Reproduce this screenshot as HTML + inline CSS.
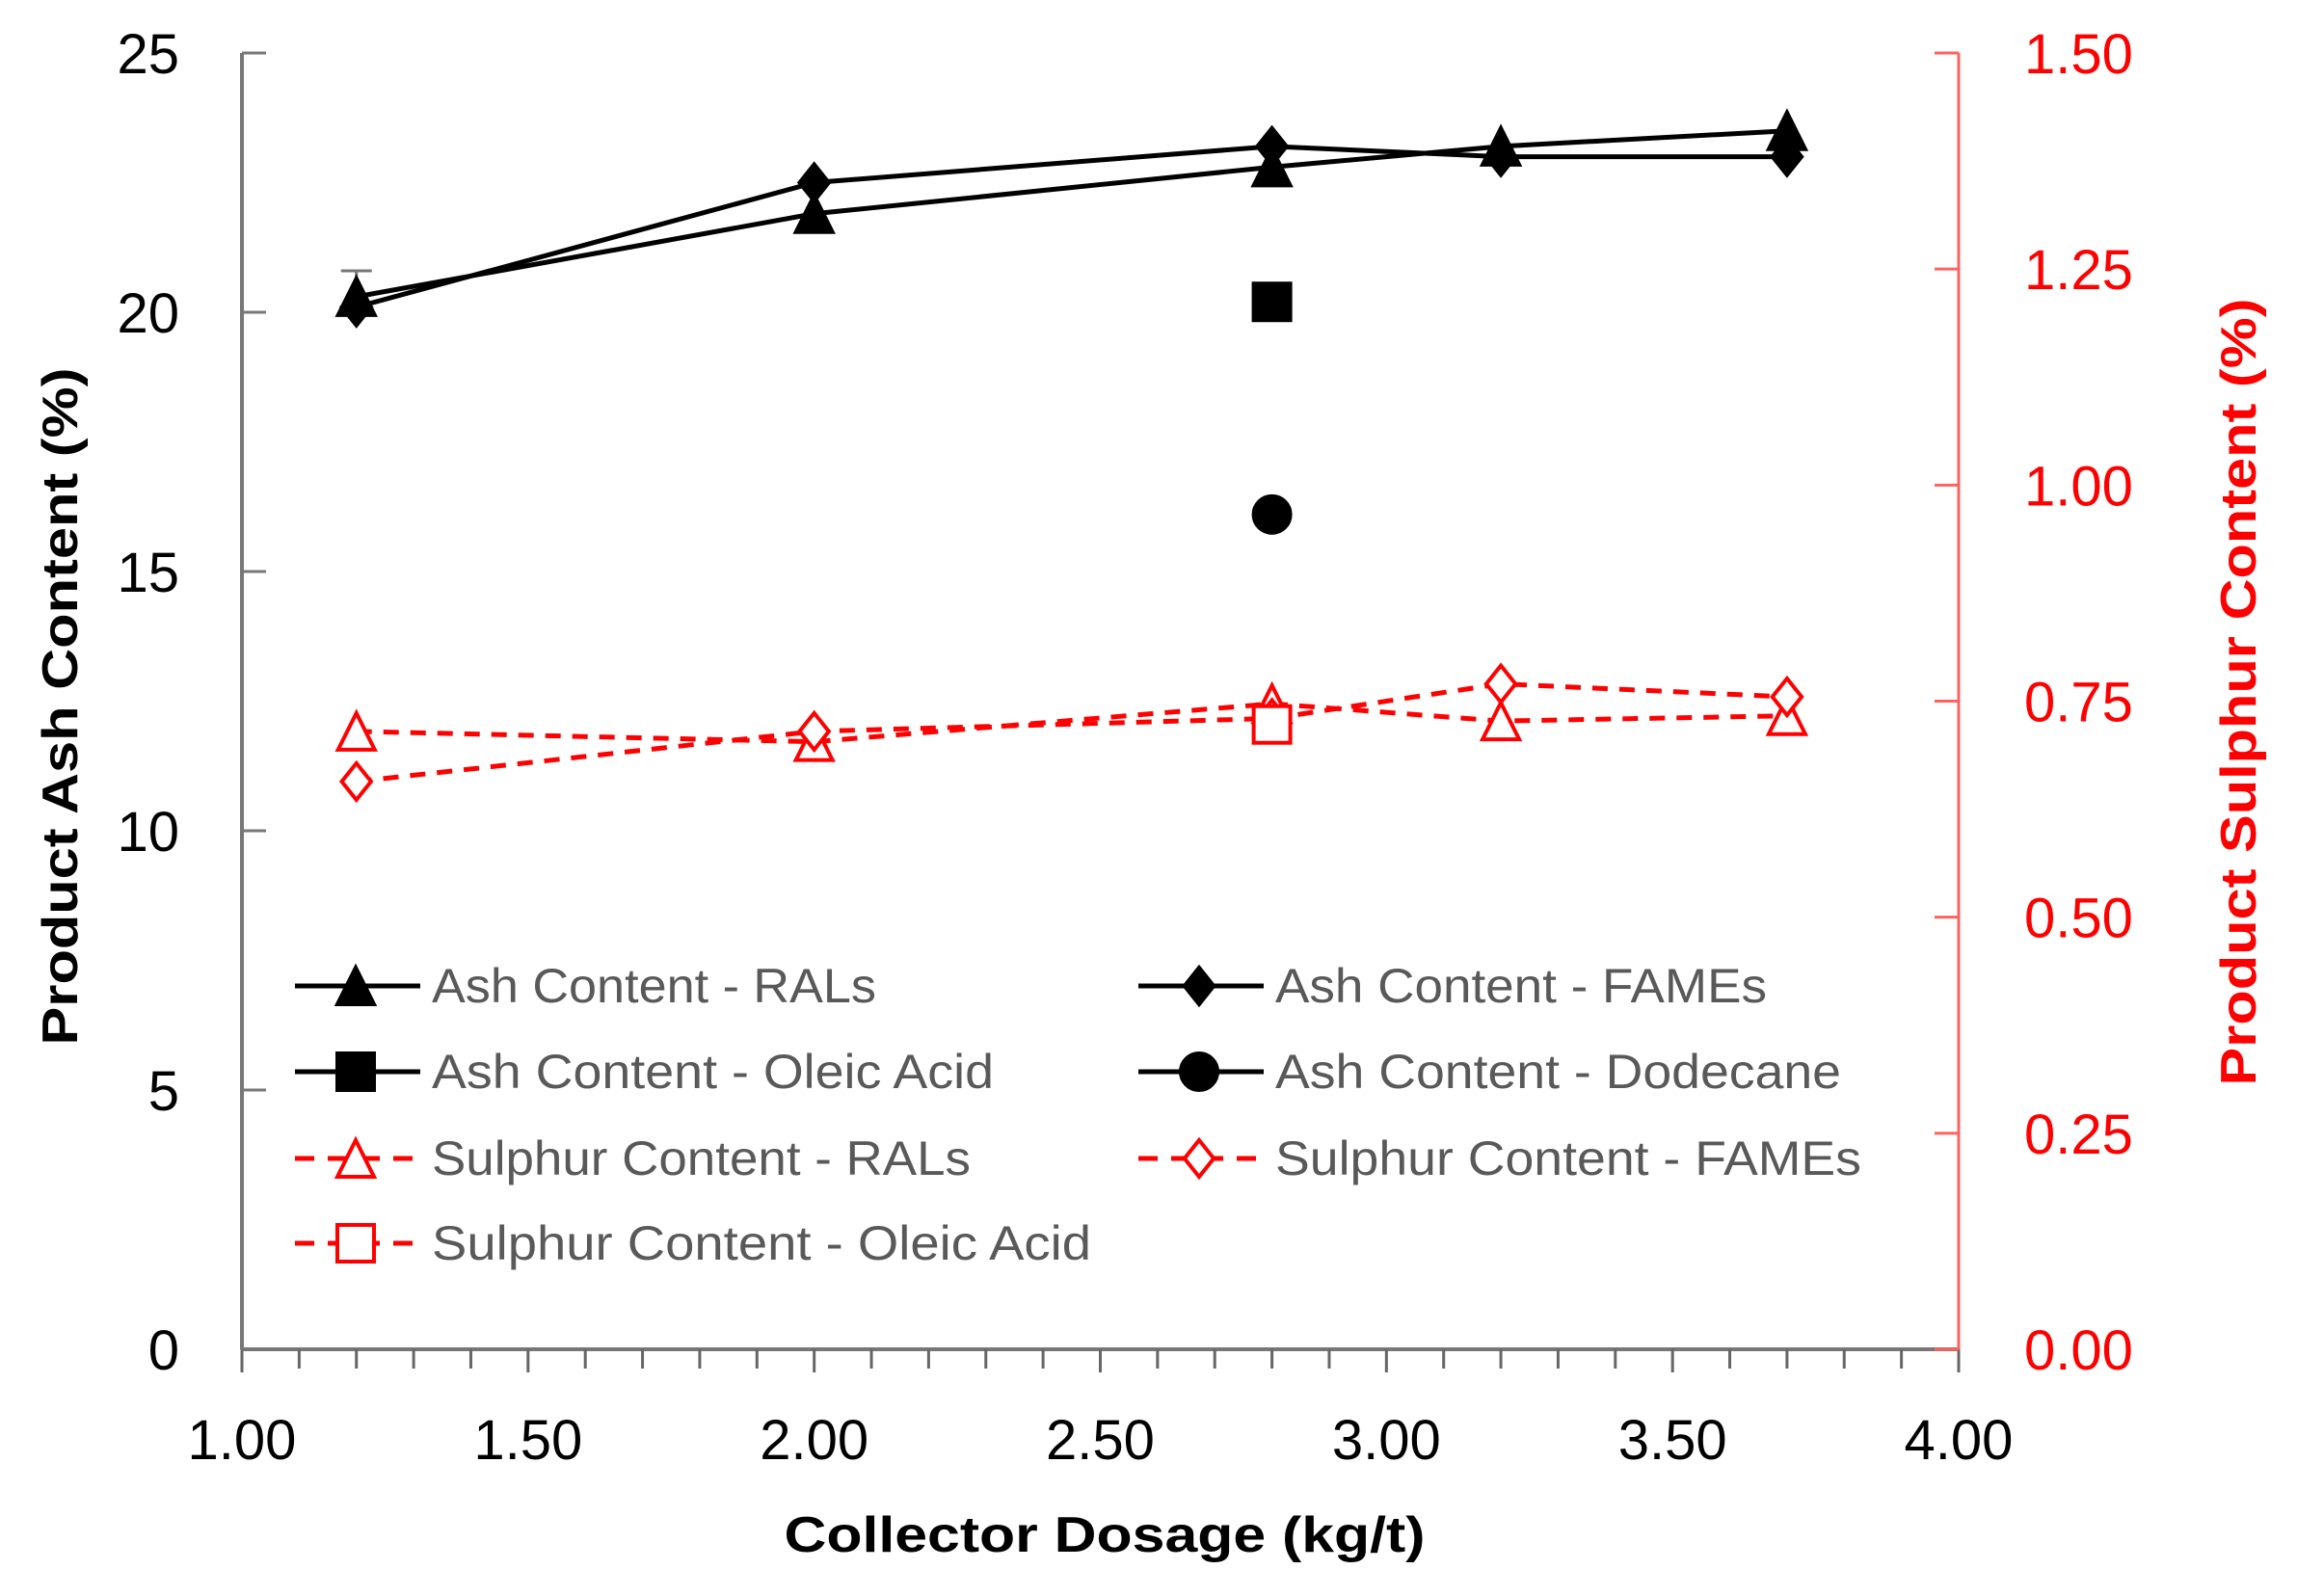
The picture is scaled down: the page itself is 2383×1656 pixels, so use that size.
<!DOCTYPE html>
<html><head><meta charset="utf-8"><style>html,body{margin:0;padding:0;background:#fff}svg{display:block}</style></head>
<body>
<svg id="chart" width="2383" height="1656" viewBox="0 0 2383 1656" xmlns="http://www.w3.org/2000/svg" font-family="'Liberation Sans', sans-serif">
<g id="axes"></g><g id="series"></g><g id="legend"></g>
<text x="1146" y="1610" text-anchor="middle" font-size="52" font-weight="bold" fill="#000" textLength="665" lengthAdjust="spacingAndGlyphs">Collector Dosage (kg/t)</text>
<text transform="translate(80,733) rotate(-90)" text-anchor="middle" font-size="52" font-weight="bold" fill="#000" textLength="703" lengthAdjust="spacingAndGlyphs">Product Ash Content (%)</text>
<text transform="translate(2340,718) rotate(-90)" text-anchor="middle" font-size="52" font-weight="bold" fill="#ff0000" textLength="817" lengthAdjust="spacingAndGlyphs">Product Sulphur Content (%)</text>
</svg>
<script>
const xTicks = [1.0, 1.5, 2.0, 2.5, 3.0, 3.5, 4.0];
const xTickLabels = ["1.00","1.50","2.00","2.50","3.00","3.50","4.00"];
const yTicks = [0,5,10,15,20,25];
const yTickLabels = ["0","5","10","15","20","25"];
const y2Ticks = [0,0.25,0.5,0.75,1.0,1.25,1.5];
const y2TickLabels = ["0.00","0.25","0.50","0.75","1.00","1.25","1.50"];
const dosage = [1.2, 2.0, 2.8, 3.2, 3.7];
const ashRALs = [20.3, 21.9, 22.8, 23.2, 23.5];
const ashFAMEs = [20.1, 22.5, 23.2, 23.0, 23.0];
const ashOleicX = [2.8];
const ashOleic = [20.2];
const ashDodecaneX = [2.8];
const ashDodecane = [16.1];
const sulRALs = [0.715, 0.703, 0.747, 0.727, 0.733];
const sulFAMEs = [0.657, 0.715, 0.73, 0.77, 0.755];
const sulOleicX = [2.8];
const sulOleic = [0.723];
const errRALsHigh = [20.8, 22.1, 23.0, 23.4, 23.7];

const L=251,R=2032,T=55,B=1400;
const xS=v=>L+(v-1)/3*(R-L);
const yS=v=>B-v/25*(B-T);
const y2S=v=>B-v/1.5*(B-T);
const NS="http://www.w3.org/2000/svg";
function mk(tag,attrs,parent){const e=document.createElementNS(NS,tag);for(const k in attrs)e.setAttribute(k,attrs[k]);parent.appendChild(e);return e;}
const ax=document.getElementById('axes'),se=document.getElementById('series'),lg=document.getElementById('legend');

let e;
e=mk('line',{x1:L,y1:B,x2:R,y2:B,stroke:'#777','stroke-width':4},ax);


e=mk('line',{x1:L,y1:T,x2:L,y2:B,stroke:'#777','stroke-width':4},ax);


e=mk('line',{x1:R,y1:T,x2:R,y2:B,stroke:'#ff6060','stroke-width':3},ax);


for(let i=0;i<=30;i++){const x=xS(1+i*0.1);
 e=mk('line',{x1:x,y1:B,x2:x,y2:B+(i%5==0?24:20),stroke:'#666','stroke-width':3},ax);
 
 }
xTicks.forEach((v,i)=>{e=mk('text',{x:xS(v),y:1514,'text-anchor':'middle','font-size':58,fill:'#000'},ax);e.textContent=xTickLabels[i];
 
 });
yTicks.forEach((v,i)=>{
 e=mk('line',{x1:L,y1:yS(v),x2:L+25,y2:yS(v),stroke:'#777','stroke-width':3},ax);
 
 
 e=mk('text',{x:186,y:yS(v)+21,'text-anchor':'end','font-size':58,fill:'#000'},ax);e.textContent=yTickLabels[i];
 
 });
y2Ticks.forEach((v,i)=>{
 e=mk('line',{x1:R-25,y1:y2S(v),x2:R,y2:y2S(v),stroke:'#ff6060','stroke-width':3},ax);
 
 
 e=mk('text',{x:2100,y:y2S(v)+21,'font-size':58,fill:'#ff0000'},ax);e.textContent=y2TickLabels[i];
 
 });

function marker(shape,cx,cy,fill,stroke,parent,name){
 let m;const s=19;
 if(shape=='tri') m=mk('polygon',{points:`${cx},${cy-s} ${cx+s},${cy+s} ${cx-s},${cy+s}`},parent);
 else if(shape=='dia') m=mk('polygon',{points:`${cx},${cy-s} ${cx+s*0.8},${cy} ${cx},${cy+s} ${cx-s*0.8},${cy}`},parent);
 else if(shape=='sq') m=mk('rect',{x:cx-s,y:cy-s,width:2*s,height:2*s},parent);
 else m=mk('circle',{cx:cx,cy:cy,r:s},parent);
 m.setAttribute('fill',fill);m.setAttribute('stroke',stroke);m.setAttribute('stroke-width',4);
 
 
 return m;}

e=mk('path',{d:`M${xS(dosage[0])},${yS(ashRALs[0])} V${yS(errRALsHigh[0])} M${xS(dosage[0])-16},${yS(errRALsHigh[0])} H${xS(dosage[0])+16}`,stroke:'#777','stroke-width':3,fill:'none'},se);



function series(xs,ys,sc,shape,fill,stroke,dash,name){
 if(xs.length>1){const p=mk('polyline',{points:xs.map((x,i)=>xS(x)+','+sc(ys[i])).join(' '),fill:'none',stroke:stroke,'stroke-width':5},se);
  if(dash)p.setAttribute('stroke-dasharray','16,12');
  
  }
 xs.forEach((x,i)=>marker(shape,xS(x),sc(ys[i]),fill,stroke,se,name+'-point'));}
series(dosage,ashRALs,yS,'tri','#000','#000',false,'ash-rals');
series(dosage,ashFAMEs,yS,'dia','#000','#000',false,'ash-fames');
series(ashOleicX,ashOleic,yS,'sq','#000','#000',false,'ash-oleic');
series(ashDodecaneX,ashDodecane,yS,'circ','#000','#000',false,'ash-dodecane');
series(dosage,sulRALs,y2S,'tri','#fff','#ff0000',true,'sulphur-rals');
series(dosage,sulFAMEs,y2S,'dia','#fff','#ff0000',true,'sulphur-fames');
series(sulOleicX,sulOleic,y2S,'sq','#fff','#ff0000',false,'sulphur-oleic');

const legItems=[
 [306,1023,'tri','#000','#000',false,'Ash Content - RALs',461],
 [1181,1023,'dia','#000','#000',false,'Ash Content - FAMEs',510],
 [306,1112,'sq','#000','#000',false,'Ash Content - Oleic Acid',583],
 [1181,1112,'circ','#000','#000',false,'Ash Content - Dodecane',587],
 [306,1202,'tri','#fff','#ff0000',true,'Sulphur Content - RALs',559],
 [1181,1202,'dia','#fff','#ff0000',true,'Sulphur Content - FAMEs',608],
 [306,1290,'sq','#fff','#ff0000',true,'Sulphur Content - Oleic Acid',684]];
legItems.forEach(it=>{
 const [x,y,sh,f,s,d,label,w]=it;
 const g=mk('g',{},lg);
 
 
 const ln=mk('line',{x1:x,y1:y,x2:x+130,y2:y,stroke:s,'stroke-width':5},g);
 if(d)ln.setAttribute('stroke-dasharray','20,14');
 marker(sh,x+63,y,f,s,g,'legend-marker');
 const t=mk('text',{x:x+142,y:y+17,'font-size':50,fill:'#595959',textLength:w,lengthAdjust:'spacingAndGlyphs'},g);
 t.textContent=label;
 
 
});
</script>
</body></html>
